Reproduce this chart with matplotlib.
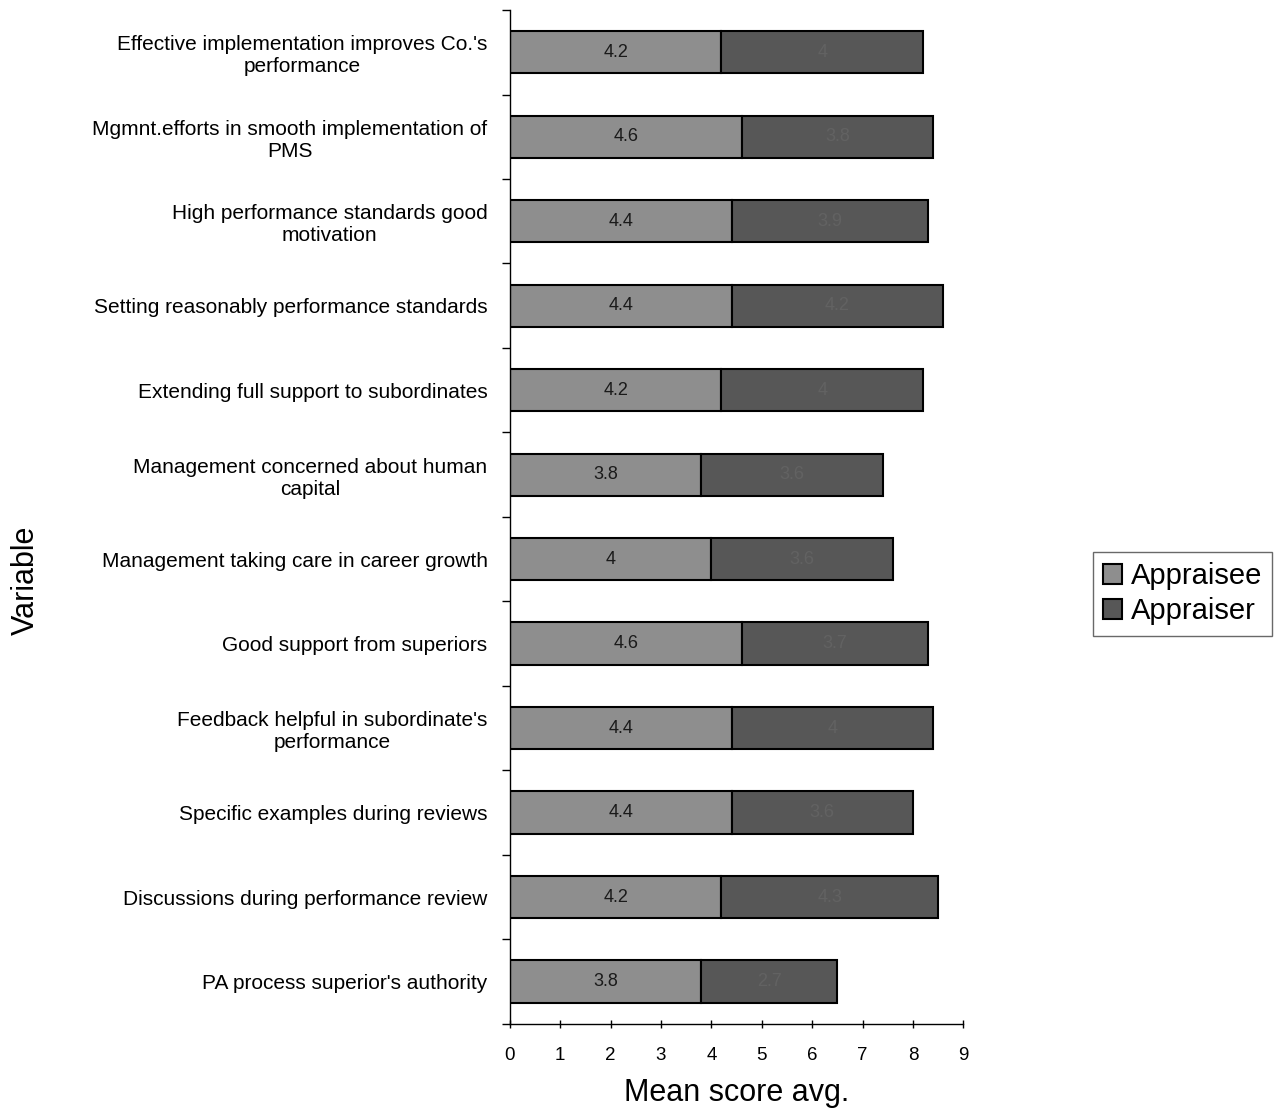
import matplotlib
matplotlib.use("Agg")
import matplotlib.pyplot as plt
from matplotlib.ticker import FixedLocator

plt.rcParams['font.family'] = ['Liberation Sans', 'DejaVu Sans']

variables = [
    "Effective implementation improves Co.'s\nperformance",
    "Mgmnt.efforts in smooth implementation of\nPMS",
    "High performance standards good\nmotivation",
    "Setting reasonably performance standards",
    "Extending full support to subordinates",
    "Management concerned about human\ncapital",
    "Management taking care in career growth",
    "Good support from superiors",
    "Feedback helpful in subordinate's\nperformance",
    "Specific examples during reviews",
    "Discussions during performance review",
    "PA process superior's authority",
]
appraisee = [4.2, 4.6, 4.4, 4.4, 4.2, 3.8, 4.0, 4.6, 4.4, 4.4, 4.2, 3.8]
appraiser = [4.0, 3.8, 3.9, 4.2, 4.0, 3.6, 3.6, 3.7, 4.0, 3.6, 4.3, 2.7]
series_names = ["Appraisee", "Appraiser"]
x_ticks = list(range(0, 10))

c_see = "#8e8e8e"
c_ser = "#575757"

fig = plt.figure(figsize=(12.81, 11.14), dpi=100)
ax = fig.add_axes([0.398, 0.081, 0.354, 0.910])

pos = list(range(len(variables)))
b1 = ax.barh(pos, appraisee, height=0.5, color=c_see, edgecolor="black",
             linewidth=1.5, label=series_names[0])
b2 = ax.barh(pos, appraiser, left=appraisee, height=0.5, color=c_ser,
             edgecolor="black", linewidth=1.5, label=series_names[1])

for i, (a, r) in enumerate(zip(appraisee, appraiser)):
    ax.text(a / 2, i, f"{a:g}", ha="center", va="center", fontsize=13,
            color="#1a1a1a")
    ax.text(a + r / 2, i, f"{r:g}", ha="center", va="center", fontsize=13,
            color="#626262")

ax.set_xlim(0, 9)
ax.set_ylim(len(variables) - 0.5, -0.5)
ax.set_xticks(x_ticks)
ax.set_xticklabels([str(t) for t in x_ticks], fontsize=13.5)
ax.tick_params(axis="x", direction="inout", length=6, pad=14, width=1)

ax.set_yticks(pos)
ax.set_yticklabels(variables, fontsize=15, multialignment="center",
                   linespacing=1.2)
ax.tick_params(axis="y", which="major", length=0, pad=16)
ax.yaxis.set_minor_locator(FixedLocator([p + 0.5 for p in range(-1, len(variables))]))
ax.tick_params(axis="y", which="minor", direction="out", length=6, width=1)

for s in ("top", "right"):
    ax.spines[s].set_visible(False)
for s in ("left", "bottom"):
    ax.spines[s].set_linewidth(1.0)

ax.set_xlabel("Mean score avg.", fontsize=22, labelpad=10)
fig.text(0.02, 0.479, "Variable", rotation=90, fontsize=22,
         ha="center", va="center")

leg = fig.legend(handles=[b1, b2], labels=series_names, loc="center left",
                 bbox_to_anchor=(0.853, 0.467), fontsize=21, frameon=True,
                 fancybox=False, edgecolor="#444444", handlelength=0.65,
                 handleheight=0.65, handletextpad=0.3, borderpad=0.35,
                 labelspacing=0.25, borderaxespad=0)
leg.get_frame().set_linewidth(1.0)

fig.savefig("out.png", dpi=100)
